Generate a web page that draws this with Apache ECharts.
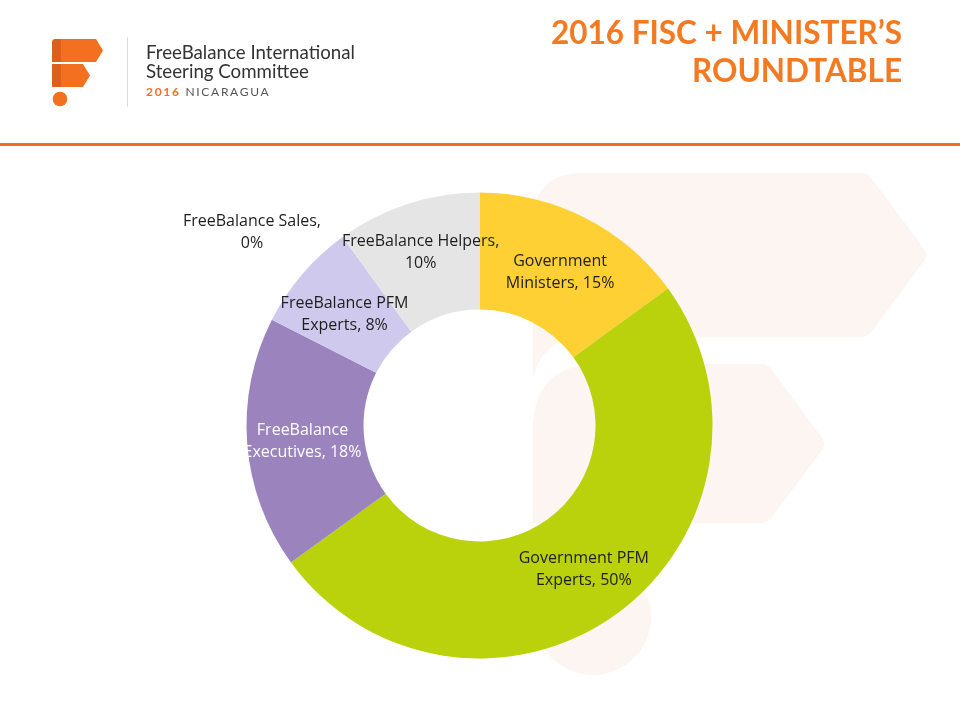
<!DOCTYPE html>
<html>
<head>
<meta charset="utf-8">
<script src="https://cdn.jsdelivr.net/npm/echarts@6/dist/echarts.min.js"></script>
<style>
  html, body { margin: 0; padding: 0; background: #fff; }
  #wrap { position: relative; width: 960px; height: 720px; overflow: hidden; }
  #chart { position: absolute; left: 0; top: 0; width: 960px; height: 720px; }
  .t { position: absolute; white-space: nowrap; font-family: Lato, sans-serif; }
</style>
</head>
<body>
<div id="wrap">
  <div id="chart"></div>
  <div class="t" style="left:146px; top:43px; font-size:18.7px; line-height:18px; color:#333;">FreeBalance International</div>
  <div class="t" style="left:146px; top:62px; font-size:18.7px; line-height:18px; color:#333;">Steering Committee</div>
  <div class="t" style="left:146px; top:86px; font-size:12px; line-height:12px; letter-spacing:1.7px;"><span style="color:#F37021; font-weight:bold;">2016</span> <span style="color:#555;">NICARAGUA</span></div>
  <div class="t" style="right:58px; top:13px; font-size:31.5px; line-height:38px; color:#F47A22; font-weight:bold; text-align:right;">2016 FISC + MINISTER’S<br>ROUNDTABLE</div>
</div>
<script>
// ---- data ----
var categories = ['Government\nMinisters', 'Government PFM\nExperts', 'FreeBalance\nExecutives', 'FreeBalance PFM\nExperts', 'FreeBalance Helpers', 'FreeBalance Sales'];
var shares = [15, 50, 17.5, 7.5, 10, 0];
var sliceColors = ['#FFD034', '#B9D20B', '#9B84BE', '#D0C9EE', '#E5E5E5', '#F4A460'];
var labelColors = ['#1e1e1e', '#1e1e1e', '#ffffff', '#1e1e1e', '#1e1e1e', '#1e1e1e'];

var chart = echarts.init(document.getElementById('chart'), null, { renderer: 'canvas' });

var wm = '#FCF5F2';
var orange = '#F37021';
var orangeDark = '#DD5F1C';

// small label nudges (styling) so the labels sit like the reference's "best fit" placement
var labelNudge = { 0: [0, 5], 2: [0, 2], 3: [0, 4], 4: [-4, -4] };

// turn a simple command list (M/L/Q) into polygon points for decoration shapes
function pts(cmds) {
  var out = [];
  var cur = null;
  cmds.forEach(function (c) {
    if (c[0] === 'M' || c[0] === 'L') {
      cur = [c[1], c[2]];
      out.push(cur);
    } else if (c[0] === 'Q') {
      var x0 = cur[0], y0 = cur[1], cx = c[1], cy = c[2], x1 = c[3], y1 = c[4];
      for (var k = 1; k <= 12; k++) {
        var t = k / 12, u = 1 - t;
        out.push([u * u * x0 + 2 * u * t * cx + t * t * x1, u * u * y0 + 2 * u * t * cy + t * t * y1]);
      }
      cur = [x1, y1];
    }
  });
  return out;
}

var dataItems = categories.map(function (c, i) {
  return {
    name: c,
    value: shares[i],
    itemStyle: { color: sliceColors[i] },
    label: { color: labelColors[i] }
  };
});

var option = {
  animation: false,
  backgroundColor: '#ffffff',
  graphic: [
    // watermark logo (decoration)
    { type: 'polygon', z: 0, silent: true,
      shape: { points: pts([['M',533,223],['Q',533,173,583,173],['L',862,173],['Q',868,173,872,179],['L',924,249],['Q',928,255,924,261],['L',872,331],['Q',868,337,862,337],['L',578,337],['Q',541,342,533,378]]) },
      style: { fill: wm } },
    { type: 'polygon', z: 0, silent: true,
      shape: { points: pts([['M',533,424],['Q',536,368,592,364],['L',762,364],['Q',768,364,772,370],['L',822,438],['Q',826,444,822,450],['L',772,517],['Q',768,523,762,523],['L',533,523]]) },
      style: { fill: wm } },
    { type: 'circle', z: 0, silent: true, shape: { cx: 593, cy: 617, r: 58 }, style: { fill: wm } },
    // small logo
    { type: 'polygon', z: 1, silent: true,
      shape: { points: pts([['M',52,43],['Q',52,39,56,39],['L',96,39],['L',103,50.5],['L',96,62],['L',52,62]]) },
      style: { fill: orange } },
    { type: 'polygon', z: 1, silent: true,
      shape: { points: pts([['M',52,68],['Q',52,64,56,64],['L',83,64],['L',90,75.5],['L',83,87],['L',52,87]]) },
      style: { fill: orange } },
    { type: 'rect', z: 2, silent: true, shape: { x: 52, y: 39, width: 9, height: 23, r: [4, 0, 0, 0] }, style: { fill: orangeDark } },
    { type: 'rect', z: 2, silent: true, shape: { x: 52, y: 64, width: 9, height: 23, r: [0, 0, 0, 4] }, style: { fill: orangeDark } },
    { type: 'circle', z: 1, silent: true, shape: { cx: 60, cy: 99, r: 7.3 }, style: { fill: orange } },
    { type: 'rect', z: 1, silent: true, shape: { x: 127, y: 37, width: 1, height: 70 }, style: { fill: '#dddddd' } },
    // orange rule
    { type: 'rect', z: 1, silent: true, shape: { x: 0, y: 143, width: 960, height: 3 }, style: { fill: '#F26B21' } }
  ],
  series: [{
    type: 'pie',
    z: 5,
    center: [479.5, 425.5],
    radius: [116, 233],
    startAngle: 90,
    clockwise: true,
    avoidLabelOverlap: false,
    minShowLabelAngle: 0,
    itemStyle: { borderWidth: 0 },
    emphasis: { disabled: true },
    label: {
      show: true,
      position: 'inside',
      fontFamily: 'Open Sans',
      fontSize: 16,
      lineHeight: 22,
      align: 'center',
      formatter: function (p) {
        var pct = Math.round(p.percent) + '%';
        return p.name.indexOf('\n') >= 0 ? p.name + ', ' + pct : p.name + ',\n' + pct;
      }
    },
    labelLine: { show: false },
    labelLayout: function (params) {
      if (params.dataIndex === 5) {
        return { x: 252, y: 232, align: 'center', verticalAlign: 'middle' };
      }
      var n = labelNudge[params.dataIndex];
      return n ? { dx: n[0], dy: n[1] } : {};
    },
    data: dataItems
  }]
};

chart.setOption(option);
</script>
</body>
</html>
